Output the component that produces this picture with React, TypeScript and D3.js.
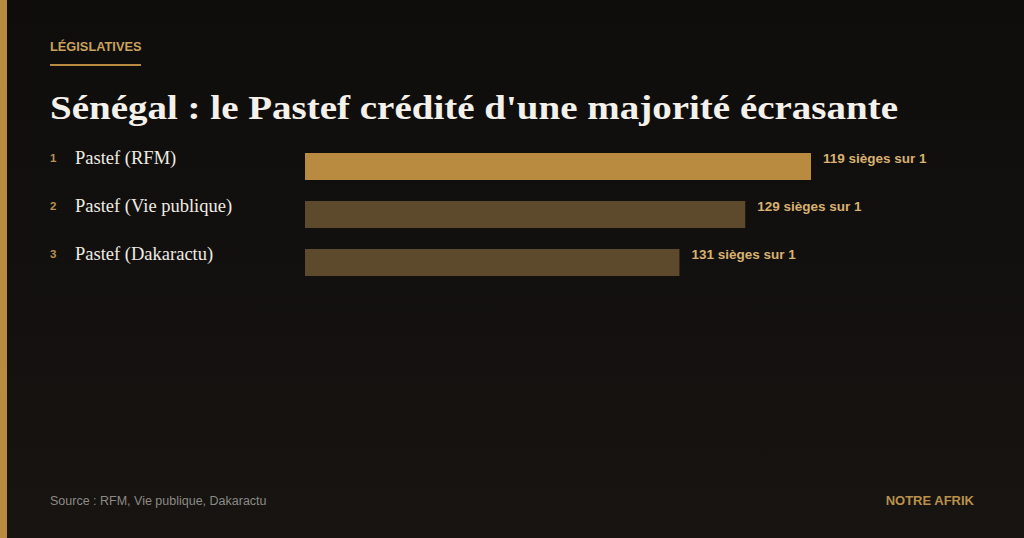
import React from "react";
import { scaleLinear, scaleBand } from "d3";

const width = 1024;
const height = 538;

const kicker = "LÉGISLATIVES";
const title = "Sénégal : le Pastef crédité d'une majorité écrasante";
const source = "Source : RFM, Vie publique, Dakaractu";
const brand = "NOTRE AFRIK";

// rows of the ranking
const ranks = ["1", "2", "3"];
const labels = ["Pastef (RFM)", "Pastef (Vie publique)", "Pastef (Dakaractu)"];
const seatLabels = ["119 sièges sur 1", "129 sièges sur 1", "131 sièges sur 1"];
// relative bar length (first bar = 100)
const barValues = [100, 87, 74];

const gold = "#b98b40";
const dimGold = "#5d4a2c";

const barLeft = 305;
const barRight = 811;

const x = scaleLinear().domain([0, 100]).range([barLeft, barRight]);
const y = scaleBand()
  .domain(ranks)
  .range([153, 276])
  .paddingInner(0.4375)
  .paddingOuter(0);

export default function App() {
  return (
    <div style={{ position: "fixed", left: 0, top: 0 }}>
      <svg width={width} height={height} style={{ display: "block" }}>
        <defs>
          <linearGradient id="bg" x1="0" y1="0" x2="0" y2="1">
            <stop offset="0%" stopColor="#0e0d0c" />
            <stop offset="100%" stopColor="#171411" />
          </linearGradient>
        </defs>
        <rect width={width} height={height} fill="url(#bg)" />
        {/* left accent stripe */}
        <rect width={7} height={height} fill={gold} />

        {/* kicker */}
        <text
          x={50}
          y={51}
          fill="#c9a25e"
          fontFamily="Liberation Sans, Arial, sans-serif"
          fontWeight="bold"
          fontSize={12.8}
        >
          {kicker}
        </text>
        <rect x={50} y={64} width={91} height={2} fill={gold} />

        {/* title */}
        <text
          x={50}
          y={119}
          fill="#f4f1ea"
          fontFamily="Liberation Serif, Georgia, serif"
          fontWeight="bold"
          fontSize={33}
          textLength={848}
          lengthAdjust="spacingAndGlyphs"
        >
          {title}
        </text>

        {ranks.map((r, i) => {
          const by = y(r) ?? 0;
          const bh = y.bandwidth();
          const end = x(barValues[i]);
          return (
            <g key={r}>
              <text
                x={50}
                y={by + 9}
                fill="#b8924f"
                fontFamily="Liberation Sans, Arial, sans-serif"
                fontWeight="bold"
                fontSize={11.5}
              >
                {r}
              </text>
              <text
                x={75}
                y={by + 11}
                fill="#eeebe4"
                fontFamily="Liberation Serif, Georgia, serif"
                fontSize={18.5}
              >
                {labels[i]}
              </text>
              <rect
                x={x(0)}
                y={by}
                width={end - x(0)}
                height={bh}
                fill={i === 0 ? gold : dimGold}
              />
              <text
                x={end + 12}
                y={by + 9.5}
                fill="#d8b172"
                fontFamily="Liberation Sans, Arial, sans-serif"
                fontWeight="bold"
                fontSize={13.5}
              >
                {seatLabels[i]}
              </text>
            </g>
          );
        })}

        {/* footer */}
        <text
          x={50}
          y={505}
          fill="#8c8a86"
          fontFamily="Liberation Sans, Arial, sans-serif"
          fontSize={12.5}
        >
          {source}
        </text>
        <text
          x={974}
          y={505}
          textAnchor="end"
          fill="#b8914c"
          fontFamily="Liberation Sans, Arial, sans-serif"
          fontWeight="bold"
          fontSize={13}
        >
          {brand}
        </text>
      </svg>
    </div>
  );
}
